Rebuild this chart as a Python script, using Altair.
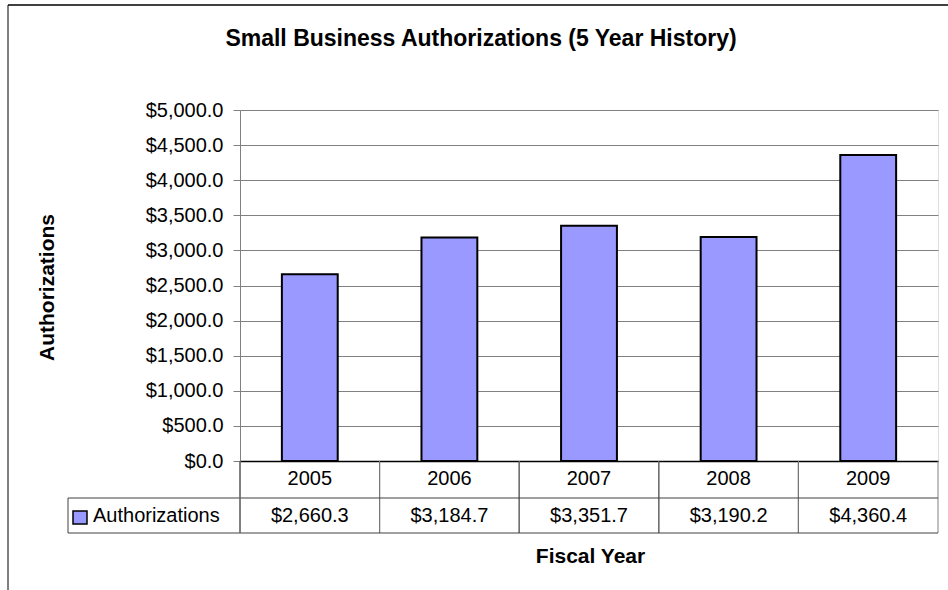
import altair as alt
import pandas as pd

years = ["2005", "2006", "2007", "2008", "2009"]
values = [2660.3, 3184.7, 3351.7, 3190.2, 4360.4]
y_ticks = [0, 500, 1000, 1500, 2000, 2500, 3000, 3500, 4000, 4500, 5000]
series_name = "Authorizations"
title_text = "Small Business Authorizations (5 Year History)"

FONT = "Arial, Liberation Sans, sans-serif"
W, H = 698, 351
BAR_COLOR = "#9999FF"
TXT = 20

df = pd.DataFrame({"year": years, "value": values})

x_enc = alt.X("year:N", sort=years,
              scale=alt.Scale(paddingInner=0, paddingOuter=0),
              axis=alt.Axis(title="Fiscal Year", labels=False, ticks=False,
                            domainColor="#000000", domainWidth=1.5,
                            titleFont=FONT, titleFontSize=21, titleFontWeight="bold",
                            titleColor="#000000", titleX=W / 2 + 1, titleY=101,
                            titleBaseline="alphabetic", titleAlign="center"))

y_enc = alt.Y("value:Q",
              scale=alt.Scale(domain=[0, 5000], nice=False, zero=True),
              axis=alt.Axis(title="Authorizations", values=y_ticks, format="$,.1f",
                            labelFont=FONT, labelFontSize=TXT, labelColor="#000000",
                            labelPadding=10, tickSize=7, tickColor="#808080",
                            domainColor="#808080", gridColor="#808080", grid=True,
                            gridWidth=1,
                            titleFont=FONT, titleFontSize=21, titleFontWeight="bold",
                            titleColor="#000000", titleX=-193, titleY=177,
                            titleAngle=270, titleBaseline="middle", titleAlign="center"))

base = alt.Chart(df)

bars = base.mark_bar(color=BAR_COLOR, stroke="#000000", strokeWidth=2,
                     width=alt.RelativeBandSize(0.4)).encode(x=x_enc, y=y_enc)

xs = alt.X("year:N", sort=years)

year_text = base.mark_text(font=FONT, fontSize=TXT, color="#000000",
                           baseline="middle").encode(x=xs, y=alt.value(369),
                                                     text="year:N")
value_text = base.mark_text(font=FONT, fontSize=TXT, color="#000000",
                            baseline="middle").encode(
    x=xs, y=alt.value(406), text=alt.Text("value:Q", format="$,.1f"))

col_left = base.mark_rule(color="#000000", strokeWidth=1).encode(
    x=alt.X("year:N", sort=years, bandPosition=0), y=alt.value(H), y2=alt.value(423))
col_right = base.mark_rule(color="#808080", strokeWidth=1).encode(
    x=alt.X("year:N", sort=years, bandPosition=1), y=alt.value(H), y2=alt.value(423))

line_df = pd.DataFrame({"k": [0]})
lb = alt.Chart(line_df)
row_sep = lb.mark_rule(color="#404040", strokeWidth=1).encode(
    x=alt.value(-172), x2=alt.value(W), y=alt.value(388))
row_bottom = lb.mark_rule(color="#404040", strokeWidth=1).encode(
    x=alt.value(-172), x2=alt.value(W), y=alt.value(423))
row_left = lb.mark_rule(color="#404040", strokeWidth=1).encode(
    x=alt.value(-172), y=alt.value(388), y2=alt.value(423))
axis_ext = lb.mark_rule(color="#808080", strokeWidth=1).encode(
    x=alt.value(0), y=alt.value(H), y2=alt.value(423))

legend_sq = lb.mark_rect(color=BAR_COLOR, stroke="#000000", strokeWidth=1.5).encode(
    x=alt.value(-167), x2=alt.value(-153), y=alt.value(401), y2=alt.value(414))
legend_txt = lb.mark_text(font=FONT, fontSize=TXT, color="#000000", align="left",
                          baseline="middle").encode(
    x=alt.value(-147), y=alt.value(406), text=alt.value(series_name))

title_mark = lb.mark_text(font=FONT, fontSize=23, fontWeight="bold", color="#000000",
                          align="center", baseline="alphabetic").encode(
    x=alt.value(241), y=alt.value(-64), text=alt.value(title_text))

frame_top = lb.mark_rule(color="#404040", strokeWidth=2).encode(
    x=alt.value(-232), x2=alt.value(720), y=alt.value(-105))
frame_left = lb.mark_rule(color="#000000", strokeWidth=1).encode(
    x=alt.value(-232), y=alt.value(-105), y2=alt.value(490))

chart = alt.layer(
    frame_top, frame_left, title_mark, bars, year_text, value_text, col_left,
    col_right, row_sep, row_bottom, row_left, axis_ext, legend_sq, legend_txt
).properties(
    width=W, height=H,
    autosize=alt.AutoSizeParams(type="none"),
    padding={"left": 240, "top": 110, "right": 10, "bottom": 129},
).configure_view(stroke=None).configure(background="#ffffff")

chart.save("out.html", embed_options={"renderer": "svg", "actions": False})
